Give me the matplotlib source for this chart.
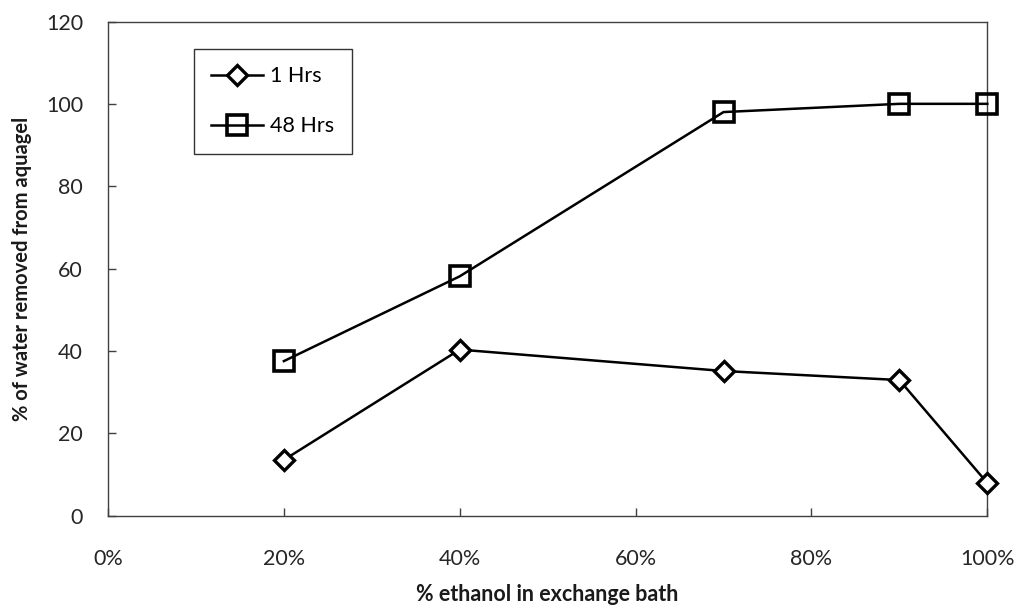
import matplotlib
matplotlib.use("Agg")
import matplotlib.pyplot as plt
from matplotlib.ticker import FuncFormatter

plt.rcParams['font.family'] = ['Lato', 'DejaVu Sans']

ethanol_pct = [20, 40, 70, 90, 100]
removed_1h = [13.5, 40.3, 35.1, 32.9, 7.9]
removed_48h = [37.5, 58.1, 98.0, 100.0, 100.0]
x_ticks = [0, 20, 40, 60, 80, 100]
y_ticks = [0, 20, 40, 60, 80, 100, 120]

fig = plt.figure(figsize=(10.21, 6.09), dpi=100)
ax = fig.add_axes([108 / 1021, 1 - 515.5 / 609, (987.3 - 108) / 1021, (515.5 - 21.5) / 609])

ax.plot(ethanol_pct, removed_1h, color='black', lw=1.8, marker='D', markersize=10,
        markerfacecolor='white', markeredgecolor='black', markeredgewidth=2.4,
        label='1 Hrs', clip_on=False, zorder=3)
ax.plot(ethanol_pct, removed_48h, color='black', lw=1.8, marker='s', markersize=14,
        markerfacecolor='none', markeredgecolor='black', markeredgewidth=2.6,
        label='48 Hrs', clip_on=False, zorder=3)

ax.set_xlim(0, 100)
ax.set_ylim(0, 120)
ax.set_xticks(x_ticks)
ax.set_yticks(y_ticks)
ax.xaxis.set_major_formatter(FuncFormatter(lambda v, p: f"{int(v)}%"))
ax.tick_params(direction='in', length=6, width=1, color='#404040',
               labelsize=15.5, labelcolor='#262626')
ax.tick_params(axis='x', pad=24)
ax.tick_params(axis='y', pad=18)
for s in ax.spines.values():
    s.set_color('#404040')
    s.set_linewidth(1.0)

ax.set_xlabel('% ethanol in exchange bath', fontsize=15.5, fontweight='bold', labelpad=11,
              color='#1a1a1a')
ax.set_ylabel('% of water removed from aquagel', fontsize=14.5, fontweight='bold', labelpad=10,
              color='#1a1a1a')

leg = ax.legend(loc='upper left', bbox_to_anchor=((194 - 108) / 879.3, (515.5 - 49) / 494),
                fontsize=15.5, frameon=True, fancybox=False, edgecolor='black',
                borderpad=0.8, labelspacing=1.4, handlelength=2.4, handletextpad=0.35,
                borderaxespad=0)
leg.get_frame().set_linewidth(1.0)

fig.savefig('out.png', dpi=100)
